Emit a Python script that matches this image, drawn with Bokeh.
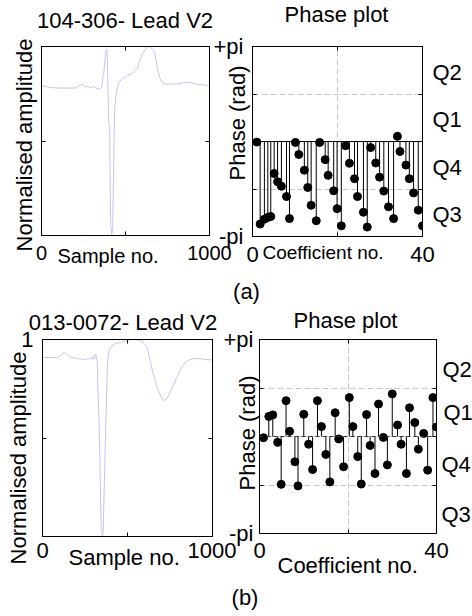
import math
from bokeh.plotting import figure
from bokeh.models import (ColumnDataSource, Label, LinearAxis, FixedTicker, Span, Range1d,
                          CustomLabelingPolicy)
from bokeh.layouts import row, column
from bokeh.embed import file_html
from bokeh.resources import INLINE

PI = math.pi

# ---------------- data ----------------
# (a) ECG 104-306, lead V2: sample no. vs normalised amplitude
ecg_a_x = [0, 50, 110, 201, 221, 241, 251, 261, 275, 291, 311, 331, 347, 357, 363, 371, 378, 384, 390, 392,
           396, 400, 406, 408, 412, 418, 424, 428, 432, 436, 444, 452, 462, 472, 492, 512, 532, 552, 572, 582,
           592, 602, 616, 633, 643, 653, 663, 673, 683, 693, 703, 723, 737, 793, 833, 843, 874, 904, 934, 964, 1000]
ecg_a_y = [0.792, 0.783, 0.780, 0.780, 0.792, 0.801, 0.792, 0.783, 0.792, 0.783, 0.787, 0.778, 0.775, 0.783,
           0.819, 0.863, 0.924, 0.981, 0.986, 0.924, 0.766, 0.607, 0.572, 0.326, 0.062, 0.0, 0.044, 0.273,
           0.502, 0.678, 0.748, 0.783, 0.810, 0.822, 0.836, 0.845, 0.854, 0.868, 0.889, 0.915, 0.942, 0.963,
           0.981, 0.998, 1.0, 0.991, 0.981, 0.968, 0.924, 0.871, 0.836, 0.805, 0.801, 0.801, 0.805, 0.810,
           0.810, 0.805, 0.798, 0.798, 0.792]

# (b) ECG 013-0072, lead V2
ecg_b_x = [0, 88, 107, 127, 137, 156, 186, 205, 234, 254, 264, 273, 283, 293, 299, 307, 312, 318, 322, 326,
           332, 338, 342, 346, 352, 357, 361, 367, 371, 377, 381, 387, 395, 410, 430, 459, 488, 508, 537, 566,
           586, 605, 619, 625, 635, 648, 664, 678, 689, 703, 717, 728, 742, 756, 771, 787, 801, 820, 840, 859,
           889, 918, 947, 977, 1000]
ecg_b_y = [0.908, 0.908, 0.920, 0.934, 0.929, 0.915, 0.907, 0.903, 0.900, 0.898, 0.903, 0.900, 0.907, 0.900,
           0.917, 0.903, 0.924, 0.912, 0.886, 0.768, 0.598, 0.378, 0.175, 0.039, 0.0, 0.022, 0.175, 0.378,
           0.514, 0.717, 0.853, 0.920, 0.951, 0.968, 0.980, 0.985, 0.992, 0.997, 1.0, 0.997, 0.992, 0.971,
           0.954, 0.920, 0.886, 0.836, 0.785, 0.751, 0.725, 0.700, 0.690, 0.697, 0.717, 0.742, 0.768, 0.802,
           0.827, 0.861, 0.883, 0.895, 0.903, 0.903, 0.900, 0.898, 0.895]

# (a) phase plot: coefficient no. vs phase (rad)
phase_a_x = [1.0, 1.8, 2.8, 3.6, 4.3, 5.1, 5.9, 6.8, 8.0, 8.7, 10.1, 10.9, 12.2, 13.0, 13.8, 15.0, 15.8,
             17.1, 17.8, 19.1, 19.9, 20.9, 21.9, 22.8, 24.0, 24.7, 26.1, 27.0, 27.8, 29.0, 29.9, 30.9, 32.0,
             33.2, 34.1, 34.7, 36.1, 36.9, 37.9, 39.0, 40.0]
phase_a_y = [-0.02, -2.73, -2.57, -2.51, -2.48, -1.06, -1.33, -1.48, -1.82, -2.55, -0.03, -0.43, -0.95,
             -1.52, -2.11, -2.62, -0.03, -0.60, -1.12, -1.63, -2.22, -2.79, -0.14, -0.72, -1.23, -1.82,
             -2.34, -2.83, -0.20, -0.71, -1.18, -1.64, -2.16, -2.55, 0.17, -0.33, -0.78, -1.23, -1.70,
             -2.27, -2.79]

# (b) phase plot
phase_b_x = [0.9, 2.1, 3.0, 4.1, 4.9, 6.0, 6.8, 8.0, 8.7, 10.0, 11.1, 12.0, 13.1, 14.0, 15.0, 15.9, 17.1,
             17.9, 19.0, 20.3, 21.1, 22.2, 23.0, 24.2, 25.0, 26.1, 26.9, 28.0, 28.9, 30.0, 31.2, 32.0, 33.2,
             33.9, 35.1, 35.9, 37.1, 38.0, 39.2, 40.0]
phase_b_y = [-0.04, 0.65, 0.70, -0.19, -1.55, 1.16, 0.17, -0.82, -1.60, 0.72, -0.25, -1.07, 1.16, 0.32,
             -0.58, -1.47, 0.77, -0.08, -0.98, 1.26, 0.32, -0.65, -1.54, 0.71, -0.29, -1.20, 1.05, -0.03,
             -0.92, 1.38, 0.37, -0.25, -1.20, 0.93, 0.45, -0.41, 0.10, -1.09, 1.26, 0.31]

quadrant_names = ["Q2", "Q1", "Q4", "Q3"]

ecg_ticks_x = [0, 500, 1000]
ecg_ticks_y = [0, 0.5, 1]
phase_ticks_x = [0, 20, 40]
phase_ticks_y = [-PI, -PI / 2, 0, PI / 2, PI]
ecg_x_names = {0: "0", 500: "", 1000: "1000"}
ecg_y_names = {0: "", 0.5: "", 1: "1"}
phase_x_names = {0: "0", 20: "", 40: "40"}
phase_y_names = {-PI: "-pi", -PI / 2: "", 0: "", PI / 2: "", PI: "+pi"}

# ---------------- style ----------------
FONT = "Liberation Sans"
FS = "22px"
TXT = "black"
ECG_COLOR = "#c4c4f2"
GRID_COLOR = "#c8c8c8"
PAGE_W, PAGE_H = 472, 614
SHIFT = 6.5   # label anchor correction (text "down" direction)


def keep_labels(keep):
    return CustomLabelingPolicy(args=dict(keep=keep), code="""
        for (const i of indices) {
            if (!keep.includes(i)) indices.unset(i)
        }
        return indices
    """)


def style_axis(ax, ticks, names, keep=(), standoff=6, size=FS):
    ax.ticker = FixedTicker(ticks=ticks)
    ax.axis_line_color = "black"
    ax.major_tick_line_color = "black"
    ax.major_tick_in = 4
    ax.major_tick_out = 0
    ax.minor_tick_line_color = None
    ax.major_label_text_font = FONT
    ax.major_label_text_font_size = size
    ax.major_label_text_color = TXT
    ax.major_label_standoff = standoff
    ax.major_label_overrides = names if keep else {t: "" for t in ticks}
    ax.major_label_policy = keep_labels(list(keep))


def make_fig(xr, yr, fw, fh, bl, br, bt, bb):
    p = figure(x_range=Range1d(*xr), y_range=Range1d(*yr), frame_width=fw, frame_height=fh,
               min_border_left=bl, min_border_right=br, min_border_top=bt, min_border_bottom=bb,
               output_backend="svg", toolbar_location=None, title=None)
    p.background_fill_color = None
    p.border_fill_color = None
    p.outline_line_color = "black"
    return p


def box_axes(p, xt, yt):
    top = LinearAxis()
    style_axis(top, xt, None)
    p.add_layout(top, "above")
    right = LinearAxis()
    style_axis(right, yt, None)
    p.add_layout(right, "right")


def ecg_panel(p, xs, ys):
    p.grid.grid_line_color = None
    src = ColumnDataSource(dict(x=xs, y=ys))
    p.line("x", "y", source=src, line_color=ECG_COLOR, line_width=1)


def phase_panel(p, xs, ys, base_dash):
    p.xgrid.ticker = FixedTicker(ticks=[20])
    p.ygrid.ticker = FixedTicker(ticks=[-PI / 2, 0, PI / 2])
    p.grid.grid_line_color = GRID_COLOR
    p.grid.grid_line_dash = "6 3"
    p.grid.grid_line_width = 1
    if base_dash is None:
        p.add_layout(Span(location=0, dimension="width", line_color="black", line_width=1))
    else:
        p.add_layout(Span(location=0, dimension="width", line_color="#333333", line_width=1,
                          line_dash=base_dash))
    src = ColumnDataSource(dict(x=xs, y=ys))
    p.segment(x0="x", y0=0, x1="x", y1="y", source=src, line_color="black", line_width=1)
    p.scatter("x", "y", source=src, size=8, fill_color="black", line_color="black")


# ---------------- (a) ----------------
p1 = make_fig((0, 1000), (0, 1), 168, 189, 41, 27, 46, 71)
style_axis(p1.xaxis[0], ecg_ticks_x, ecg_x_names, keep=(0, 2), standoff=10, size="20px")
style_axis(p1.yaxis[0], ecg_ticks_y, None)
box_axes(p1, ecg_ticks_x, ecg_ticks_y)
ecg_panel(p1, ecg_a_x, ecg_a_y)

p2 = make_fig((0, 40), (-PI, PI), 170, 190, 52, 50, 41, 75)
style_axis(p2.xaxis[0], phase_ticks_x, phase_x_names, keep=(0, 2), standoff=10)
style_axis(p2.yaxis[0], phase_ticks_y, phase_y_names, keep=(0, 4), standoff=9)
box_axes(p2, phase_ticks_x, phase_ticks_y)
phase_panel(p2, phase_a_x, phase_a_y, None)
p2.margin = (0, 0, 0, -36)

# ---------------- (b) ----------------
p3 = make_fig((0, 1000), (0, 1), 170, 197, 42, 24, 33, 78)
style_axis(p3.xaxis[0], ecg_ticks_x, ecg_x_names, keep=(0, 2), standoff=6)
style_axis(p3.yaxis[0], ecg_ticks_y, ecg_y_names, keep=(2,), standoff=9)
box_axes(p3, ecg_ticks_x, ecg_ticks_y)
ecg_panel(p3, ecg_b_x, ecg_b_y)

p4 = make_fig((0, 40), (-PI, PI), 177, 194, 59, 36, 31, 83)
style_axis(p4.xaxis[0], phase_ticks_x, phase_x_names, keep=(0, 2), standoff=9)
style_axis(p4.yaxis[0], phase_ticks_y, phase_y_names, keep=(0, 4), standoff=6)
box_axes(p4, phase_ticks_x, phase_ticks_y)
phase_panel(p4, phase_b_x, phase_b_y, "4 3")
p4.margin = (0, 0, 0, -36)

# ---------------- text layer (titles, axis names, quadrant names) ----------------
txt = figure(x_range=Range1d(0, PAGE_W), y_range=Range1d(PAGE_H, 0), frame_width=PAGE_W,
             frame_height=PAGE_H, min_border=0, x_axis_location=None, y_axis_location=None,
             output_backend="svg", toolbar_location=None, title=None)
txt.background_fill_color = None
txt.border_fill_color = None
txt.outline_line_color = None
txt.grid.grid_line_color = None
txt.margin = (-PAGE_H, 0, 0, 0)


def put(x, y, text, align="center", vertical=False, size=FS):
    if vertical:
        x, angle = x - SHIFT, PI / 2
    else:
        y, angle = y - SHIFT, 0.0
    txt.add_layout(Label(x=x, y=y, text=text, text_align=align, text_baseline="alphabetic",
                         angle=angle, text_font=FONT, text_font_size=size, text_color=TXT))


# (a)
put(124.5, 26.5, "104-306- Lead V2")
put(30.5, 144.5, "Normalised amplitude", vertical=True)
put(57, 261.5, "Sample no.", align="left", size="20px")
put(336, 20.5, "Phase plot")
put(243.5, 122.5, "Phase (rad)", vertical=True)
put(262, 258, "Coefficient no.", align="left", size="19px")
for q, (qx, qy) in zip(quadrant_names, [(432, 78), (432, 125), (432, 173), (432, 220)]):
    put(qx, qy, q, align="left")
put(246, 297, "(a)")
# (b)
put(122.5, 328, "013-0072- Lead V2")
put(24.5, 457.5, "Normalised amplitude", vertical=True)
put(68, 563, "Sample no.", align="left")
put(345, 326, "Phase plot")
put(253.5, 432.5, "Phase (rad)", vertical=True)
put(277, 571.5, "Coefficient no.", align="left")
for q, (qx, qy) in zip(quadrant_names, [(442, 375), (443, 418), (441, 470), (441, 520)]):
    put(qx, qy, q, align="left")
put(244.5, 603, "(b)")

layout = column(row(p1, p2), row(p3, p4), txt)

with open("out.html", "w") as f:
    f.write(file_html(layout, INLINE))
